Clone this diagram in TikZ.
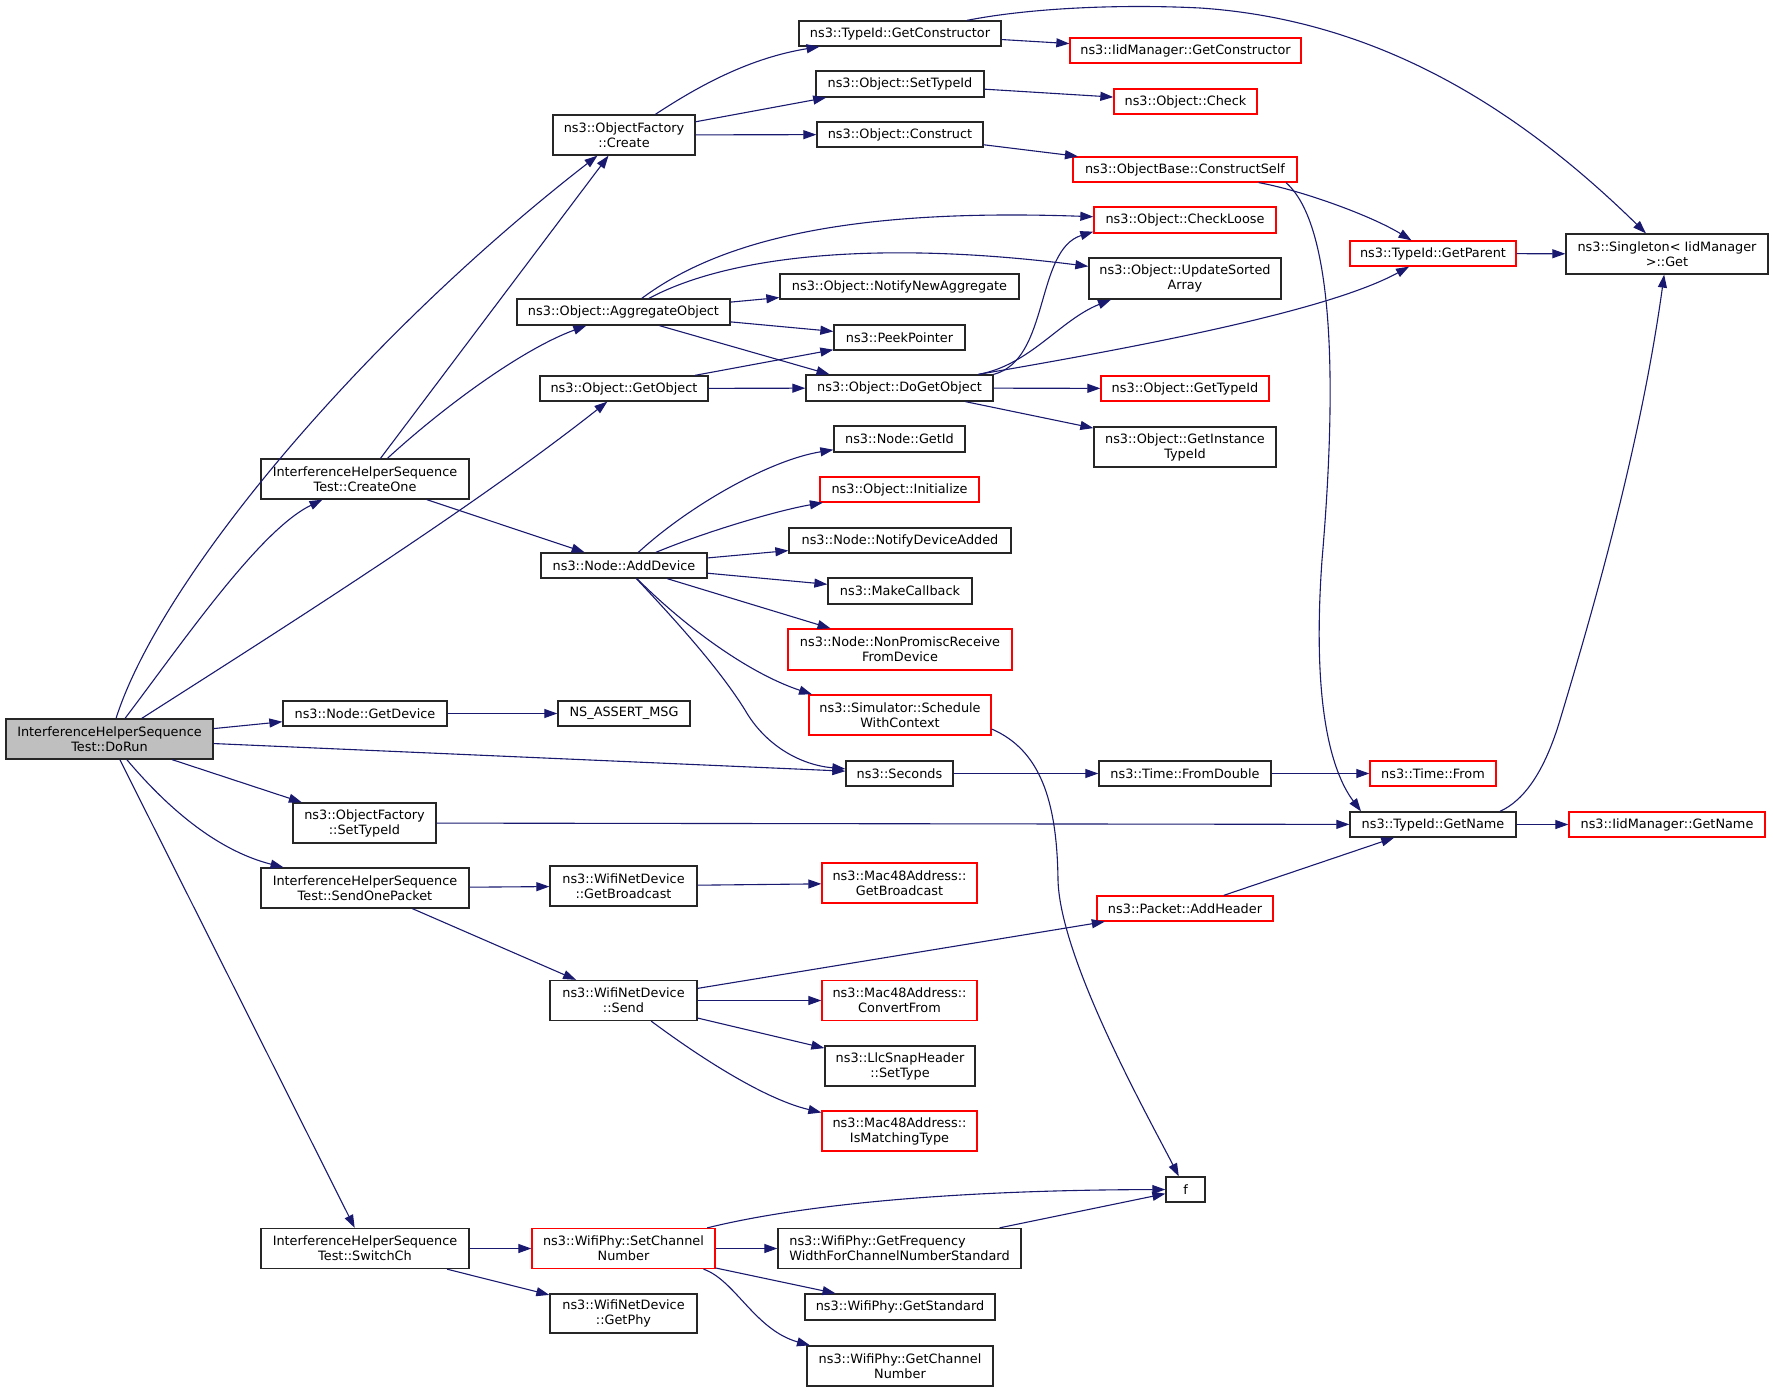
\documentclass[tikz,border=0pt]{standalone}
\usepackage{fontspec}
\setmainfont{DejaVu Sans}
\usetikzlibrary{arrows.meta}
\definecolor{edgeblue}{HTML}{191970}
\definecolor{rootfill}{HTML}{BFBFBF}
\newcommand\ndbox[7]{\node[#1,minimum width={(#5)-(#3)},minimum height={(#6)-(#4)}] (#2) at ({((#3)+(#5))/2},{((#4)+(#6))/2}) {#7};}
\begin{document}
\begin{tikzpicture}[x=1pt,y=-1pt,
  box/.style={draw=black!85,line width=1.3pt,fill=white,inner sep=0pt,align=center,font=\fontsize{12.85}{15}\selectfont},
  blk/.style={box},
  redb/.style={box,draw=red},
  root/.style={box,fill=rootfill},
  edge/.style={draw=edgeblue,line width=1.1pt,-{Triangle[length=13pt,width=9pt]}}]
\useasboundingbox (0,0) rectangle (1773,1391);
% nodes
\ndbox{root}{dorun}{6}{719}{213}{759}{InterferenceHelperSequence\\Test::DoRun}
\ndbox{blk}{create}{553}{115}{695}{155}{ns3::ObjectFactory\\::Create}
\ndbox{blk}{createone}{261}{459}{469}{499}{InterferenceHelperSequence\\Test::CreateOne}
\ndbox{blk}{aggobj}{517}{299}{730}{325}{ns3::Object::AggregateObject}
\ndbox{blk}{getobject}{540}{376}{708}{401}{ns3::Object::GetObject}
\ndbox{blk}{getctor}{799}{21}{1001}{46}{ns3::TypeId::GetConstructor}
\ndbox{redb}{iidgetctor}{1070}{38}{1301}{63}{ns3::IidManager::GetConstructor}
\ndbox{blk}{osettypeid}{816}{71}{984}{97}{ns3::Object::SetTypeId}
\ndbox{redb}{check}{1114}{89}{1257}{114}{ns3::Object::Check}
\ndbox{blk}{construct}{817}{122}{983}{147}{ns3::Object::Construct}
\ndbox{redb}{ctorself}{1073}{157}{1297}{182}{ns3::ObjectBase::ConstructSelf}
\ndbox{redb}{checkloose}{1094}{207}{1276}{233}{ns3::Object::CheckLoose}
\ndbox{blk}{updsorted}{1089}{258}{1281}{299}{ns3::Object::UpdateSorted\\Array}
\ndbox{blk}{notifyagg}{780}{274}{1019}{299}{ns3::Object::NotifyNewAggregate}
\ndbox{blk}{peekptr}{834}{325}{965}{350}{ns3::PeekPointer}
\ndbox{blk}{dogetobj}{806}{375}{993}{401}{ns3::Object::DoGetObject}
\ndbox{redb}{gettypeid}{1101}{376}{1269}{401}{ns3::Object::GetTypeId}
\ndbox{blk}{getinst}{1094}{427}{1276}{467}{ns3::Object::GetInstance\\TypeId}
\ndbox{redb}{getparent}{1350}{241}{1516}{266}{ns3::TypeId::GetParent}
\ndbox{blk}{singleton}{1566}{234}{1768}{274}{ns3::Singleton< IidManager\\ >::Get}
\ndbox{blk}{getid}{834}{426}{965}{452}{ns3::Node::GetId}
\ndbox{redb}{initialize}{820}{477}{979}{502}{ns3::Object::Initialize}
\ndbox{blk}{adddevice}{541}{553}{707}{578}{ns3::Node::AddDevice}
\ndbox{blk}{notifydev}{789}{528}{1011}{553}{ns3::Node::NotifyDeviceAdded}
\ndbox{blk}{makecb}{828}{578}{972}{604}{ns3::MakeCallback}
\ndbox{redb}{nonpromisc}{788}{629}{1012}{670}{ns3::Node::NonPromiscReceive\\FromDevice}
\ndbox{redb}{schedule}{809}{695}{991}{735}{ns3::Simulator::Schedule\\WithContext}
\ndbox{blk}{getdevice}{283}{701}{447}{726}{ns3::Node::GetDevice}
\ndbox{blk}{nsassert}{558}{701}{690}{726}{NS\_ASSERT\_MSG}
\ndbox{blk}{seconds}{846}{761}{953}{786}{ns3::Seconds}
\ndbox{blk}{fromdouble}{1099}{761}{1271}{786}{ns3::Time::FromDouble}
\ndbox{redb}{timefrom}{1370}{761}{1496}{786}{ns3::Time::From}
\ndbox{blk}{ofsettypeid}{293}{803}{436}{843}{ns3::ObjectFactory\\::SetTypeId}
\ndbox{blk}{getname}{1350}{812}{1516}{837}{ns3::TypeId::GetName}
\ndbox{redb}{iidgetname}{1569}{812}{1765}{837}{ns3::IidManager::GetName}
\ndbox{blk}{sendone}{261}{868}{469}{908}{InterferenceHelperSequence\\Test::SendOnePacket}
\ndbox{blk}{wgetbc}{550}{866}{697}{906}{ns3::WifiNetDevice\\::GetBroadcast}
\ndbox{redb}{mgetbc}{822}{863}{977}{903}{ns3::Mac48Address::\\GetBroadcast}
\ndbox{redb}{addheader}{1097}{896}{1273}{921}{ns3::Packet::AddHeader}
\ndbox{blk}{send}{550}{980.5}{697}{1020.5}{ns3::WifiNetDevice\\::Send}
\ndbox{redb}{convertfrom}{822}{980.5}{977}{1020.5}{ns3::Mac48Address::\\ConvertFrom}
\ndbox{blk}{settype}{825}{1046}{975}{1086}{ns3::LlcSnapHeader\\::SetType}
\ndbox{redb}{ismatching}{822}{1111}{977}{1151}{ns3::Mac48Address::\\IsMatchingType}
\ndbox{blk}{f}{1166}{1177}{1205}{1202}{f}
\ndbox{blk}{switchch}{261}{1228.5}{469}{1268.5}{InterferenceHelperSequence\\Test::SwitchCh}
\ndbox{redb}{setchannel}{532}{1228.5}{715}{1268.5}{ns3::WifiPhy::SetChannel\\Number}
\ndbox{blk,align=left}{getfreq}{778}{1228.5}{1021}{1268.5}{ns3::WifiPhy::GetFrequency\\WidthForChannelNumberStandard}
\ndbox{blk}{getphy}{550}{1294}{697}{1333}{ns3::WifiNetDevice\\::GetPhy}
\ndbox{blk}{getstandard}{805}{1294}{995}{1320}{ns3::WifiPhy::GetStandard}
\ndbox{blk}{getchannel}{807}{1346}{993}{1386}{ns3::WifiPhy::GetChannel\\Number}
% edges
\draw[edge] (dorun) .. controls (160,580) and (360,340) .. (create);
\draw[edge] (dorun) .. controls (185,639) and (260,530) .. (createone);
\draw[edge] (dorun) .. controls (280,630) and (470,510) .. (getobject);
\draw[edge] (dorun) -- (getdevice);
\draw[edge] (dorun) -- (seconds);
\draw[edge] (dorun) -- (ofsettypeid);
\draw[edge] (dorun) .. controls (165,805) and (215,850) .. (sendone);
\draw[edge] (dorun) -- (switchch);
\draw[edge] (create) .. controls (700,85) and (750,58) .. (getctor);
\draw[edge] (create) -- (osettypeid);
\draw[edge] (create) -- (construct);
\draw[edge] (getctor) -- (iidgetctor);
\draw[edge] (getctor) .. controls (1030,8) and (1120,4) .. (1200,8) .. controls (1380,20) and (1520,110) .. (singleton);
\draw[edge] (osettypeid) -- (check);
\draw[edge] (construct) -- (ctorself);
\draw[edge] (ctorself) .. controls (1300,190) and (1370,215) .. (getparent);
\draw[edge] ([xshift=101pt]ctorself.south) .. controls (1340,230) and (1334,420) .. (1322,560) .. controls (1312,700) and (1330,770) .. ([xshift=-72pt]getname.north);
\draw[edge] (aggobj) .. controls (720,240) and (850,208) .. (checkloose);
\draw[edge] (aggobj) .. controls (730,255) and (880,240) .. (updsorted);
\draw[edge] (aggobj) -- (notifyagg);
\draw[edge] (aggobj) -- (peekptr);
\draw[edge] ([xshift=36pt]aggobj.south) -- ([xshift=-70pt]dogetobj.north);
\draw[edge] (getobject) -- (peekptr);
\draw[edge] (getobject) -- (dogetobj);
\draw[edge] (dogetobj.north east) .. controls (1050,360) and (1035,250) .. ([yshift=2pt]checkloose.south west);
\draw[edge] ([xshift=79pt]dogetobj.north) .. controls (1030,365) and (1060,320) .. ([xshift=-74pt]updsorted.south);
\draw[edge] ([xshift=79pt]dogetobj.north) .. controls (1150,345) and (1330,310) .. (getparent);
\draw[edge] (dogetobj) -- (gettypeid);
\draw[edge] (dogetobj) -- (getinst);
\draw[edge] (createone) -- (create);
\draw[edge] (createone) .. controls (440,410) and (520,350) .. (aggobj);
\draw[edge] (createone) -- (adddevice);
\draw[edge] (adddevice) .. controls (690,505) and (770,460) .. (getid);
\draw[edge] (adddevice) .. controls (710,530) and (780,510) .. (initialize);
\draw[edge] (adddevice) -- (notifydev);
\draw[edge] (adddevice) -- (makecb);
\draw[edge] (adddevice) -- (nonpromisc);
\draw[edge] (adddevice) .. controls (680,622) and (745,672) .. ([xshift=-88pt]schedule.north);
\draw[edge] (adddevice) .. controls (680,625) and (720,670) .. (745,710) .. controls (765,745) and (800,765) .. (seconds);
\draw[edge] ([yshift=-14pt]schedule.east) .. controls (1040,750) and (1057,800) .. (1058,880) .. controls (1060,960) and (1150,1120) .. (f);
\draw[edge] (seconds) -- (fromdouble);
\draw[edge] (fromdouble) -- (timefrom);
\draw[edge] (ofsettypeid) -- (getname);
\draw[edge] (getname) -- (iidgetname);
\draw[edge] ([xshift=67pt]getname.north) .. controls (1525,800) and (1545,770) .. (1560,720) .. controls (1590,620) and (1640,450) .. (singleton);
\draw[edge] (getparent) -- (singleton);
\draw[edge] (getdevice) -- (nsassert);
\draw[edge] (sendone) -- (wgetbc);
\draw[edge] (sendone) -- (send);
\draw[edge] (wgetbc) -- (mgetbc);
\draw[edge] (send) -- (addheader);
\draw[edge] (send) -- (convertfrom);
\draw[edge] (send) -- (settype);
\draw[edge] (send) .. controls (690,1050) and (760,1098) .. (ismatching);
\draw[edge] (addheader) -- (getname);
\draw[edge] (switchch) -- (setchannel);
\draw[edge] (switchch) -- (getphy);
\draw[edge] (setchannel) .. controls (800,1205) and (950,1190) .. (f);
\draw[edge] (getfreq) -- (f);
\draw[edge] (setchannel) -- (getfreq);
\draw[edge] (setchannel) -- (getstandard);
\draw[edge] ([xshift=80pt]setchannel.south) .. controls (735,1280) and (755,1330) .. ([xshift=-90pt]getchannel.north);
\end{tikzpicture}
\end{document}
